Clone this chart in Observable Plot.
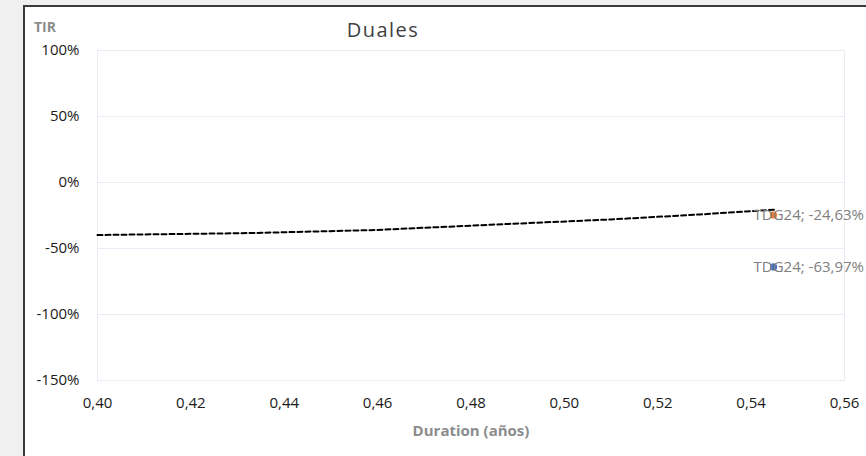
<!DOCTYPE html>
<html><head><meta charset="utf-8">
<script src="https://cdn.jsdelivr.net/npm/d3@7"></script>
<script src="https://cdn.jsdelivr.net/npm/@observablehq/plot@0.6"></script>
<style>
body{margin:0;background:#f0f0f0;}
#wrap{position:relative;width:866px;height:456px;background:#f0f0f0;overflow:hidden;font-family:"Open Sans",sans-serif;}
#box{position:absolute;left:23px;top:5px;width:900px;height:520px;background:#fff;border:2px solid #3a3a3a;}
#chart{position:absolute;left:0;top:0;}
#title{position:absolute;left:383px;top:17px;transform:translateX(-50%);font-size:20px;line-height:26px;letter-spacing:1.5px;color:#404040;white-space:nowrap;}
#tir{position:absolute;left:34px;top:18px;font-size:14px;line-height:18px;font-weight:bold;color:#8c8c8c;}
#xlab{position:absolute;left:471px;top:419px;transform:translateX(-50%);font-size:15px;line-height:22px;font-weight:bold;color:#8c8c8c;white-space:nowrap;}
</style></head>
<body>
<div id="wrap">
  <div id="box"></div>
  <div id="chart"></div>
  <div id="title">Duales</div>
  <div id="tir">TIR</div>
  <div id="xlab">Duration (años)</div>
</div>
<script>
// Data
const bondNames = ["TDG24", "TDG24"];
const bondDuration = [0.5448, 0.5448];
const bondTir = [-0.2463, -0.6397];
const bondColors = ["#ED7D31", "#4472C4"];
const bondLabels = ["TDG24; -24,63%", "TDG24; -63,97%"];

const trendX = [0.400, 0.4328, 0.4595, 0.4842, 0.5099, 0.5291, 0.5452];
const trendY = [-0.398, -0.383, -0.360, -0.320, -0.280, -0.242, -0.205];

const yTicks = [-1.5, -1, -0.5, 0, 0.5, 1];
const xTicks = [0.40, 0.42, 0.44, 0.46, 0.48, 0.50, 0.52, 0.54, 0.56];

const bonds = bondNames.map((n, i) => ({name: n, x: bondDuration[i], y: bondTir[i], color: bondColors[i], label: bondLabels[i]}));
const trend = trendX.map((x, i) => ({x, y: trendY[i]}));

const gridColor = "#e8ecf5";

const chart = Plot.plot({
  width: 866,
  height: 456,
  marginLeft: 97,
  marginRight: 22,
  marginTop: 50,
  marginBottom: 76,
  style: {background: "transparent", fontFamily: "'Open Sans', sans-serif", fontSize: "15px", color: "#1a1a1a", overflow: "visible"},
  x: {domain: [0.40, 0.56]},
  y: {domain: [-1.5, 1]},
  marks: [
    Plot.ruleY(yTicks, {stroke: gridColor, strokeWidth: 1}),
    Plot.frame({stroke: gridColor, strokeWidth: 1}),
    Plot.axisY({ticks: yTicks, tickSize: 0, tickPadding: 18, fontSize: 15, label: null,
      tickFormat: d => Math.round(d * 100) + "%"}),
    Plot.axisX({ticks: xTicks, tickSize: 0, tickPadding: 17, fontSize: 15, label: null,
      tickFormat: d => d.toFixed(2).replace(".", ",")}),
    Plot.line(trend, {x: "x", y: "y", stroke: "#000", strokeWidth: 2, strokeDasharray: "5,3"}),
    Plot.dot(bonds, {x: "x", y: "y", fill: d => d.color, r: 3.6, stroke: "none"}),
    Plot.text(bonds, {x: "x", y: "y", text: "label", textAnchor: "start", dx: -20, fill: "#808080", fontSize: 15, lineAnchor: "middle"})
  ]
});
document.getElementById("chart").appendChild(chart);
</script>
</body></html>
